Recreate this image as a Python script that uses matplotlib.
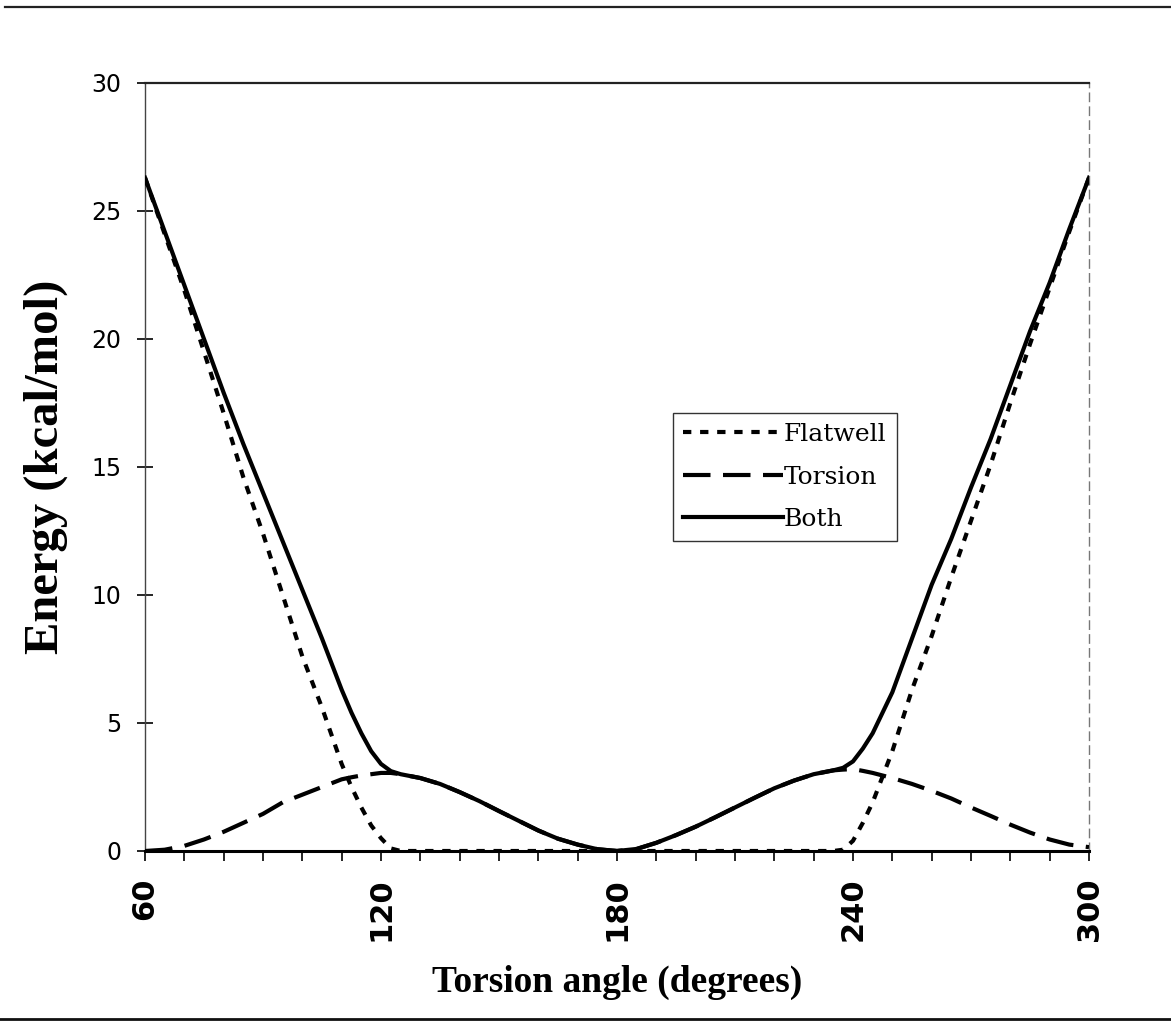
import matplotlib
matplotlib.use("Agg")
import matplotlib.pyplot as plt
from matplotlib.lines import Line2D
from matplotlib.ticker import MultipleLocator

# Torsion angle grid (degrees), finer around the well edges
angle = [60, 65, 70, 75, 80, 85, 90, 95, 100, 105, 110, 112.5, 115, 117.5,
         120, 122.5, 125, 130, 135, 140, 145, 150, 155, 160, 165, 170, 175,
         180, 185, 190, 195, 200, 205, 210, 215, 220, 225, 230, 235, 237.5,
         240, 242.5, 245, 247.5, 250, 255, 260, 265, 270, 275, 280, 285,
         290, 295, 300]

# Energies (kcal/mol)
flatwell = [26.3, 24.1, 21.9, 19.5, 17.1, 14.6, 12.4, 10.0, 7.6, 5.6, 3.4,
            2.5, 1.7, 1.0, 0.5, 0.1, 0.0, 0.0, 0.0, 0.0, 0.0, 0.0, 0.0, 0.0,
            0.0, 0.0, 0.0, 0.0, 0.0, 0.0, 0.0, 0.0, 0.0, 0.0, 0.0, 0.0, 0.0,
            0.0, 0.0, 0.05, 0.4, 1.1, 1.9, 2.9, 3.9, 6.3, 8.4, 10.7, 12.9,
            15.1, 17.5, 19.8, 22.0, 24.2, 26.3]

torsion = [0.0, 0.05, 0.2, 0.45, 0.75, 1.1, 1.45, 1.9, 2.2, 2.5, 2.8, 2.88,
           2.95, 3.0, 3.05, 3.05, 3.0, 2.85, 2.62, 2.3, 1.95, 1.56, 1.18,
           0.8, 0.48, 0.25, 0.07, 0.0, 0.08, 0.32, 0.62, 0.95, 1.32, 1.7,
           2.08, 2.45, 2.75, 3.0, 3.15, 3.18, 3.2, 3.13, 3.05, 2.95, 2.85,
           2.62, 2.35, 2.05, 1.7, 1.37, 1.03, 0.72, 0.45, 0.25, 0.15]

both = [26.3, 24.2, 22.1, 20.0, 17.9, 15.9, 14.0, 12.1, 10.2, 8.3, 6.3, 5.4,
        4.6, 3.9, 3.4, 3.12, 3.0, 2.85, 2.62, 2.3, 1.95, 1.56, 1.18, 0.8,
        0.48, 0.25, 0.07, 0.0, 0.08, 0.32, 0.62, 0.95, 1.32, 1.7, 2.08, 2.45,
        2.75, 3.0, 3.15, 3.25, 3.5, 4.0, 4.6, 5.4, 6.2, 8.3, 10.4, 12.2,
        14.2, 16.1, 18.2, 20.3, 22.2, 24.3, 26.3]

series_names = ["Flatwell", "Torsion", "Both"]
x_major_ticks = [60, 120, 180, 240, 300]
y_ticks = [0, 5, 10, 15, 20, 25, 30]

W, H = 1171, 1023
fig = plt.figure(figsize=(W / 100, H / 100), dpi=100)
fig.patch.set_facecolor("white")

ax = fig.add_axes([145 / W, (H - 851) / H, (1089 - 145) / W, (851 - 83) / H])

lw = 3.0
ax.plot(angle, flatwell, color="black", lw=lw, linestyle=(0, (2.0, 2.1)),
        label=series_names[0], zorder=3)
ax.plot(angle, torsion, color="black", lw=lw, linestyle=(0, (6.6, 3.0)),
        label=series_names[1], zorder=3)
ax.plot(angle, both, color="black", lw=lw, linestyle="-",
        solid_joinstyle="round", label=series_names[2], zorder=4)

ax.set_xlim(60, 300)
ax.set_ylim(0, 30)
ax.set_xticks(x_major_ticks)
ax.xaxis.set_minor_locator(MultipleLocator(10))
ax.set_yticks(y_ticks)

ax.tick_params(axis="x", which="both", direction="out", length=7, width=1.2,
               color="black", pad=12)
ax.tick_params(axis="x", which="major", labelsize=22, rotation=90)
ax.tick_params(axis="y", which="major", direction="inout", length=12,
               width=1.2, labelsize=17, pad=11)
for lab in ax.get_xticklabels():
    lab.set_fontweight("bold")
    lab.set_family("DejaVu Sans")
for lab in ax.get_yticklabels():
    lab.set_family("DejaVu Sans")

ax.spines["bottom"].set_linewidth(2.2)
ax.spines["top"].set_linewidth(1.6)
ax.spines["top"].set_color("#222222")
ax.spines["left"].set_linewidth(1.0)
ax.spines["left"].set_color("#444444")
ax.spines["right"].set_linewidth(1.0)
ax.spines["right"].set_color("#777777")
ax.spines["right"].set_linestyle((0, (6, 4)))

ax.set_xlabel("Torsion angle (degrees)", family="Liberation Serif",
              fontweight="bold", fontsize=27, labelpad=17)
ax.set_ylabel("Energy (kcal/mol)", family="Liberation Serif",
              fontweight="bold", fontsize=35, labelpad=17)

leg = ax.legend(loc="upper left", bbox_to_anchor=(0.559, 0.570),
                borderaxespad=0, frameon=True, fancybox=False,
                prop={"family": "DejaVu Serif", "size": 18},
                handlelength=4.0, handletextpad=0.05, labelspacing=0.78,
                borderpad=0.4)
leg.get_frame().set_edgecolor("black")
leg.get_frame().set_linewidth(1.0)

# Page frame rules above and below the chart
fig.add_artist(Line2D([5 / W, 1.0], [1 - 7 / H, 1 - 7 / H],
                      transform=fig.transFigure, color="#222222", lw=1.6))
fig.add_artist(Line2D([0.0, 1.0], [1 - 1019 / H, 1 - 1019 / H],
                      transform=fig.transFigure, color="#111111", lw=2.0))

fig.savefig("out.png", dpi=100, facecolor="white")
